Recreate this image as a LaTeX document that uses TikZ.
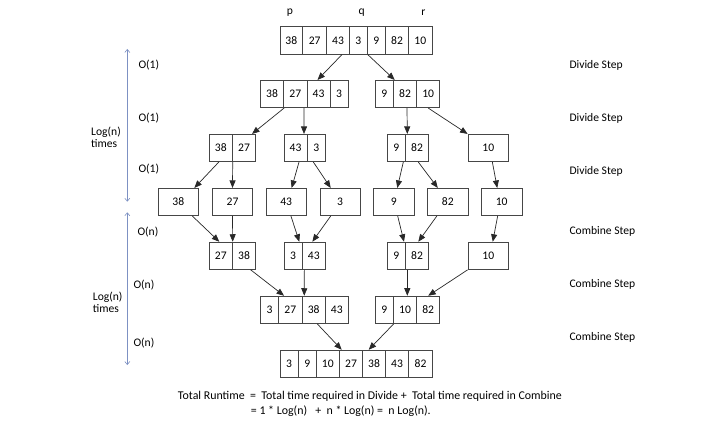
\documentclass[tikz,border=0pt]{standalone}
\usepackage{fontspec}
\setmainfont{Carlito}
\usetikzlibrary{arrows.meta,calc}
\definecolor{boxc}{RGB}{70,70,70}
\definecolor{linec}{RGB}{40,40,40}
\definecolor{vblue}{RGB}{125,145,195}
\newcommand\fsz{\fontsize{11.6}{13}\selectfont}
\newcommand\fszb{\fontsize{11.9}{13}\selectfont}
\newcommand\mycell[5]{\node[cell, minimum width={#3-#2}] (#1) at ({(#2+#3)/2},#4) {#5};}
\begin{document}
\begin{tikzpicture}[x=1pt,y=-1pt,
  cell/.style={draw=boxc, line width=0.8pt, minimum height=27.3pt, inner sep=0pt, font=\fsz, text=black},
  conn/.style={draw=linec, line width=0.7pt, -{Triangle[length=7.5pt,width=6pt]}},
  vconn/.style={draw=vblue, line width=0.6pt, {Straight Barb[length=3pt,width=5pt]}-{Straight Barb[length=3pt,width=5pt]}},
  lab/.style={font=\fsz, inner sep=0pt, text=black},
  blab/.style={font=\fszb, inner sep=0pt, text=black}]
\useasboundingbox[fill=white] (0,0) rectangle (722,427);

% row 1
\mycell{a1}{280}{302.7}{40.5}{38}
\mycell{a2}{302.7}{326.7}{40.5}{27}
\mycell{a3}{326.7}{349.3}{40.5}{43}
\mycell{a4}{349.3}{367.3}{40.5}{3}
\mycell{a5}{367.3}{385.3}{40.5}{9}
\mycell{a6}{385.3}{408.7}{40.5}{82}
\mycell{a7}{408.7}{432}{40.5}{10}
% row 2
\mycell{ba1}{260.3}{283.7}{94}{38}
\mycell{ba2}{283.7}{307}{94}{27}
\mycell{ba3}{307}{330}{94}{43}
\mycell{ba4}{330}{348.3}{94}{3}
\mycell{bb1}{375.3}{393.3}{94}{9}
\mycell{bb2}{393.3}{416.7}{94}{82}
\mycell{bb3}{416.7}{439.7}{94}{10}
% row 3
\mycell{ca1}{209.3}{232.3}{148}{38}
\mycell{ca2}{232.3}{255.7}{148}{27}
\mycell{cb1}{284}{307}{148}{43}
\mycell{cb2}{307}{325.7}{148}{3}
\mycell{cc1}{387.3}{405.3}{148}{9}
\mycell{cc2}{405.3}{428.7}{148}{82}
\mycell{cd1}{468}{508.7}{148}{10}
% row 4
\mycell{d1}{158}{198.7}{202}{38}
\mycell{d2}{212.3}{252.7}{202}{27}
\mycell{d3}{266}{306.3}{202}{43}
\mycell{d4}{320}{360}{202}{3}
\mycell{d5}{373.3}{414.3}{202}{9}
\mycell{d6}{427.3}{468.3}{202}{82}
\mycell{d7}{481.3}{522}{202}{10}
% row 5
\mycell{ea1}{209.3}{232.3}{255.8}{27}
\mycell{ea2}{232.3}{255.7}{255.8}{38}
\mycell{eb1}{284}{302}{255.8}{3}
\mycell{eb2}{302}{325.7}{255.8}{43}
\mycell{ec1}{387.3}{405.3}{255.8}{9}
\mycell{ec2}{405.3}{428.7}{255.8}{82}
\mycell{ed1}{468}{508.7}{255.8}{10}
% row 6
\mycell{fa1}{260.3}{278.7}{309.8}{3}
\mycell{fa2}{278.7}{302}{309.8}{27}
\mycell{fa3}{302}{325.3}{309.8}{38}
\mycell{fa4}{325.3}{348.3}{309.8}{43}
\mycell{fb1}{375.3}{393.3}{309.8}{9}
\mycell{fb2}{393.3}{416.7}{309.8}{10}
\mycell{fb3}{416.7}{439.7}{309.8}{82}
% row 7
\mycell{g1}{280}{298.3}{363.8}{3}
\mycell{g2}{298.3}{316.3}{363.8}{9}
\mycell{g3}{316.3}{339.3}{363.8}{10}
\mycell{g4}{339.3}{362.7}{363.8}{27}
\mycell{g5}{362.7}{385.3}{363.8}{38}
\mycell{g6}{385.3}{408.7}{363.8}{43}
\mycell{g7}{408.7}{432.3}{363.8}{82}

% connectors 1->2
\draw[conn] ([xshift=4pt]a3.south) -- ([xshift=-1pt]ba3.north);
\draw[conn] (a4.south east) -- ([xshift=1pt]bb1.north east);
% 2->3
\draw[conn] (ba1.south east) -- ([xshift=8pt]ca2.north);
\draw[conn] ([xshift=8.7pt]ba2.south) -- ([xshift=8.5pt]cb1.north);
\draw[conn] ([xshift=2pt]bb2.south) -- ([xshift=-9.7pt]cc2.north);
\draw[conn] (bb3.south) -- (cd1.north west);
% 3->4
\draw[conn] ([xshift=-2pt]ca1.south) -- ([xshift=16pt]d1.north);
\draw[conn] (ca1.south east) -- (d2.north);
\draw[conn] ([xshift=3.5pt]cb1.south) -- ([xshift=5.5pt]d3.north);
\draw[conn] ([xshift=-3pt]cb2.south) -- ([xshift=-9.3pt]d4.north);
\draw[conn] ([xshift=7pt]cc1.south) -- ([xshift=3.5pt]d5.north);
\draw[conn] ([xshift=1.3pt]cc2.south) -- ([xshift=-10pt]d6.north);
\draw[conn] ([xshift=4pt]cd1.south) -- ([xshift=-4.4pt]d7.north);
% 4->5
\draw[conn] ([xshift=14pt]d1.south) -- ([xshift=-1.5pt]ea1.north);
\draw[conn] (d2.south) -- (ea1.north east);
\draw[conn] ([xshift=4.8pt]d3.south) -- ([xshift=6.3pt]eb1.north);
\draw[conn] ([xshift=-9.3pt]d4.south) -- ([xshift=-1.5pt]eb2.north);
\draw[conn] ([xshift=3.9pt]d5.south) -- ([xshift=7.7pt]ec1.north);
\draw[conn] ([xshift=-11pt]d6.south) -- ([xshift=1.3pt]ec2.north);
\draw[conn] ([xshift=-4pt]d7.south) -- ([xshift=4.4pt]ed1.north);
% 5->6
\draw[conn] ([xshift=6.7pt]ea2.south) -- ([xshift=-6.3pt]fa2.north);
\draw[conn] ([xshift=-9.5pt]eb2.south) -- ([xshift=-9.4pt]fa3.north);
\draw[conn] ([xshift=-9.7pt]ec2.south) -- ([xshift=2.3pt]fb2.north);
\draw[conn] (ed1.south west) -- (fb3.north);
% 6->7
\draw[conn] ([xshift=3.6pt]fa3.south) -- ([xshift=-9.3pt]g4.north);
\draw[conn] (fb1.south east) -- ([xshift=-5.3pt]g5.north);

% top labels
\node[lab] (p) at (290,13) {p};
\node[lab] (q) at (361.7,13) {q};
\node[lab] (r) at (423.3,13) {r};

% left side
\coordinate (v1t) at (127.3,49);
\coordinate (v1b) at (127.3,201.7);
\coordinate (v2t) at (127.3,212.3);
\coordinate (v2b) at (127.3,365);
\draw[vconn] (v1t) -- (v1b);
\draw[vconn] (v2t) -- (v2b);
\node[lab, anchor=west] (o1) at (138.3,65) {O(1)};
\node[lab, anchor=west] (o2) at (138.3,118.3) {O(1)};
\node[lab, anchor=west] (o3) at (138.3,169.3) {O(1)};
\node[lab, anchor=west] (n1) at (137.3,232.3) {O(n)};
\node[lab, anchor=west] (n2) at (133.3,285) {O(n)};
\node[lab, anchor=west] (n3) at (133.3,342.7) {O(n)};
\node[lab, anchor=west, align=left] (lg1) at (91,137) {Log(n)\\[-1.2pt]times};
\node[lab, anchor=west, align=left] (lg2) at (92.7,302) {Log(n)\\[-1.2pt]times};

% right side
\node[lab, anchor=west] (s1) at (569.3,65) {Divide Step};
\node[lab, anchor=west] (s2) at (569.3,118.3) {Divide Step};
\node[lab, anchor=west] (s3) at (569.3,171) {Divide Step};
\node[lab, anchor=west] (s4) at (569.3,231.7) {Combine Step};
\node[lab, anchor=west] (s5) at (569.3,284) {Combine Step};
\node[lab, anchor=west] (s6) at (569.3,337.3) {Combine Step};

% bottom text
\node[blab, anchor=west] (t1) at (177.7,396) {Total Runtime\ \ =\ \ Total time required in Divide +\ \ Total time required in Combine};
\node[blab, anchor=west] (t2) at (250.7,411) {= 1 * Log(n)\ \ \ +\ \ n * Log(n) =\ \ n Log(n).};
\end{tikzpicture}
\end{document}
